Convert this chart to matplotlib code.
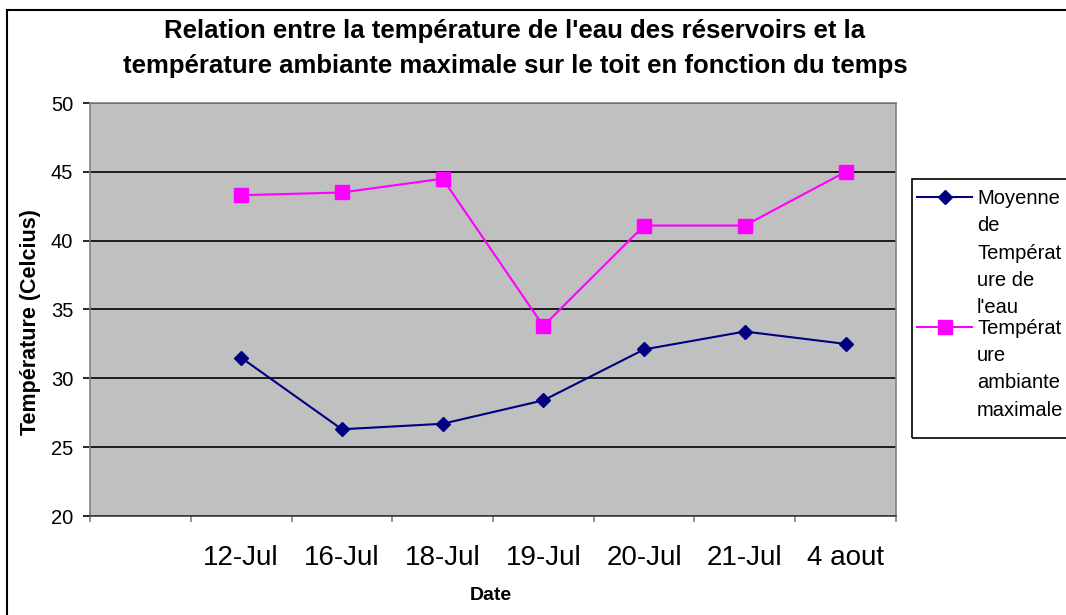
import matplotlib
matplotlib.use('Agg')
import matplotlib.pyplot as plt
import numpy as np
from matplotlib.patches import Rectangle
from matplotlib.lines import Line2D

dates = ['12-Jul', '16-Jul', '18-Jul', '19-Jul', '20-Jul', '21-Jul', '4 aout']
eau = [31.5, 26.3, 26.7, 28.4, 32.1, 33.4, 32.5]
ambiante = [43.3, 43.5, 44.5, 33.8, 41.1, 41.1, 45.0]
label_eau = "Moyenne\nde\nTempérat\nure de\nl'eau"
label_amb = "Températ\nure\nambiante\nmaximale"
title_lines = ["Relation entre la température de l'eau des réservoirs et la",
               "température ambiante maximale sur le toit en fonction du temps"]

plt.rcParams['font.family'] = ['Liberation Sans', 'DejaVu Sans']

W, H = 1066, 615
fig = plt.figure(figsize=(W / 100, H / 100), dpi=100)

def fx(px):
    return px / W

def fy(py):
    return 1 - py / H

# outer chart border (right & bottom cut off)
fig.patches.append(Rectangle((fx(7), fy(700)), fx(1200), (700 - 10) / H,
                             transform=fig.transFigure, fill=False,
                             edgecolor='black', lw=1.5, clip_on=False))

ax = fig.add_axes([fx(90), fy(516), fx(896) - fx(90), fy(103) - fy(516)])
ax.set_facecolor('#C0C0C0')
x = np.arange(1, len(dates) + 1)
l1, = ax.plot(x, eau, color='#000080', marker='D', ms=7.5, lw=1.5, zorder=3)
l2, = ax.plot(x, ambiante, color='#FF00FF', marker='s', ms=10, lw=1.5, zorder=3)

ax.set_xlim(-0.5, len(dates) + 0.5)
ax.set_ylim(20, 50)
ax.set_yticks(np.arange(20, 51, 5))
ax.yaxis.grid(True, color='black', lw=1.2)
ax.set_axisbelow(True)

ax.set_xticks(x)
ax.set_xticklabels(dates, fontsize=20)
ax.set_xticks(np.arange(-0.5, len(dates) + 1, 1.0), minor=True)
ax.tick_params(axis='x', which='major', length=0, pad=21)
ax.tick_params(axis='x', which='minor', length=4.5, color='#808080', width=1.2)
ax.tick_params(axis='y', labelsize=14.5, length=5, pad=7, width=1.2)

for s in ['left', 'right', 'top']:
    ax.spines[s].set_color('#808080')
    ax.spines[s].set_linewidth(1.2)
ax.spines['bottom'].set_color('#404040')
ax.spines['bottom'].set_linewidth(1.2)

# titles and labels
fig.text(fx(515), fy(31), title_lines[0], ha='center', va='center',
         fontsize=18.5, fontweight='bold')
fig.text(fx(515), fy(66), title_lines[1], ha='center', va='center',
         fontsize=18.5, fontweight='bold')
fig.text(fx(31), fy(322), 'Température (Celcius)', rotation=90,
         ha='center', va='center', fontsize=15.5, fontweight='bold')
fig.text(fx(491), fy(595), 'Date', ha='center', va='center',
         fontsize=14, fontweight='bold')

# legend (cut by the right edge of the image)
fig.patches.append(Rectangle((fx(912), fy(438)), fx(300), (438 - 179) / H,
                             transform=fig.transFigure, fill=False,
                             edgecolor='black', lw=1.2, clip_on=False))
for line, ytop, lab in [(l1, 197, label_eau), (l2, 327, label_amb)]:
    fig.lines.append(Line2D([fx(917), fx(972)], [fy(ytop), fy(ytop)],
                            transform=fig.transFigure,
                            color=line.get_color(), lw=1.5))
    fig.lines.append(Line2D([fx(945)], [fy(ytop)], transform=fig.transFigure,
                            color=line.get_color(), marker=line.get_marker(),
                            ms=line.get_markersize(), lw=0))
    fig.text(fx(977), fy(ytop - 8), lab, ha='left', va='top',
             fontsize=14.5, linespacing=1.55)

fig.savefig('out.png', dpi=100)
